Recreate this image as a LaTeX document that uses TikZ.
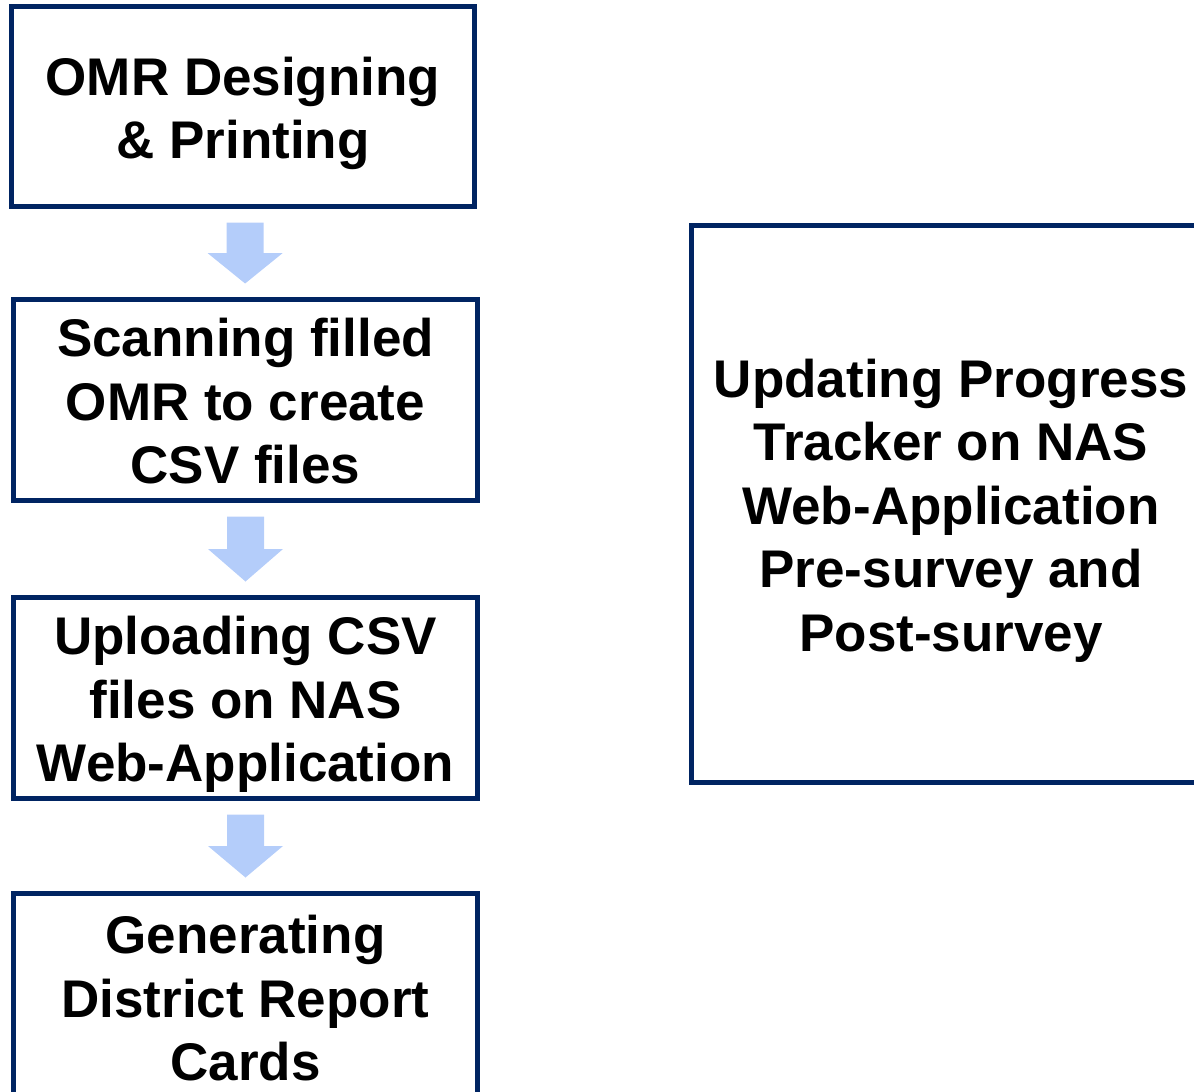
\documentclass[tikz,border=0pt]{standalone}
\usepackage{fontspec}
\setmainfont{Liberation Sans}
\usetikzlibrary{calc}
\definecolor{boxline}{RGB}{0,36,98}
\definecolor{arrowfill}{RGB}{180,205,250}
\tikzset{
  stepbox/.style={draw=boxline, line width=5pt, fill=white, align=center,
    inner sep=0pt, text=black,
    font={\fontsize{53}{63.5}\selectfont\bfseries}},
}
% line strut with the ascent and descent of the face
\newcommand\lstrut{\rule[-0.212em]{0pt}{1.19em}}
% block arrow pointing down from node #1 to node #2
\newcommand\flowarrow[2]{%
  \fill[arrowfill] let \p1=($(#1.south)!13.5pt!(#2.north)$),
                       \p2=($(#2.north)!13.5pt!(#1.south)$),
                       \p3=($(\p1)!0.5!(\p2)$) in
    (\x2-18.5pt,\y1) -- (\x2+18.5pt,\y1) -- (\x2+18.5pt,\y3) -- (\x2+37.5pt,\y3)
    -- (\x2,\y2) -- (\x2-37.5pt,\y3) -- (\x2-18.5pt,\y3) -- cycle;}
\begin{document}
\begin{tikzpicture}[x=1pt,y=-1pt]
  \useasboundingbox (0,0) rectangle (1194,1092);
  \clip (0,0) rectangle (1194,1092);
  \node[stepbox, minimum width=463pt, minimum height=200.5pt] (b1) at (243,106.5)
    {\lstrut OMR Designing\\\lstrut\& Printing};
  \node[stepbox, minimum width=464pt, minimum height=201pt] (b2) at (245.5,400)
    {\lstrut Scanning filled\\OMR to create\\\lstrut CSV files};
  \node[stepbox, minimum width=464pt, minimum height=201pt] (b3) at (245.5,698)
    {\lstrut Uploading CSV\\files on NAS\\\lstrut Web-Application};
  \node[stepbox, minimum width=464pt, minimum height=207pt] (b4) at (245.5,997)
    {\lstrut Generating\\District Report\\\lstrut Cards};
  \node[stepbox, minimum width=519pt, minimum height=557pt] (tr) at (951,504)
    {\lstrut Updating Progress\\Tracker on NAS\\Web-Application\\Pre-survey and\\\lstrut Post-survey};
  \flowarrow{b1}{b2}
  \flowarrow{b2}{b3}
  \flowarrow{b3}{b4}
\end{tikzpicture}
\end{document}
